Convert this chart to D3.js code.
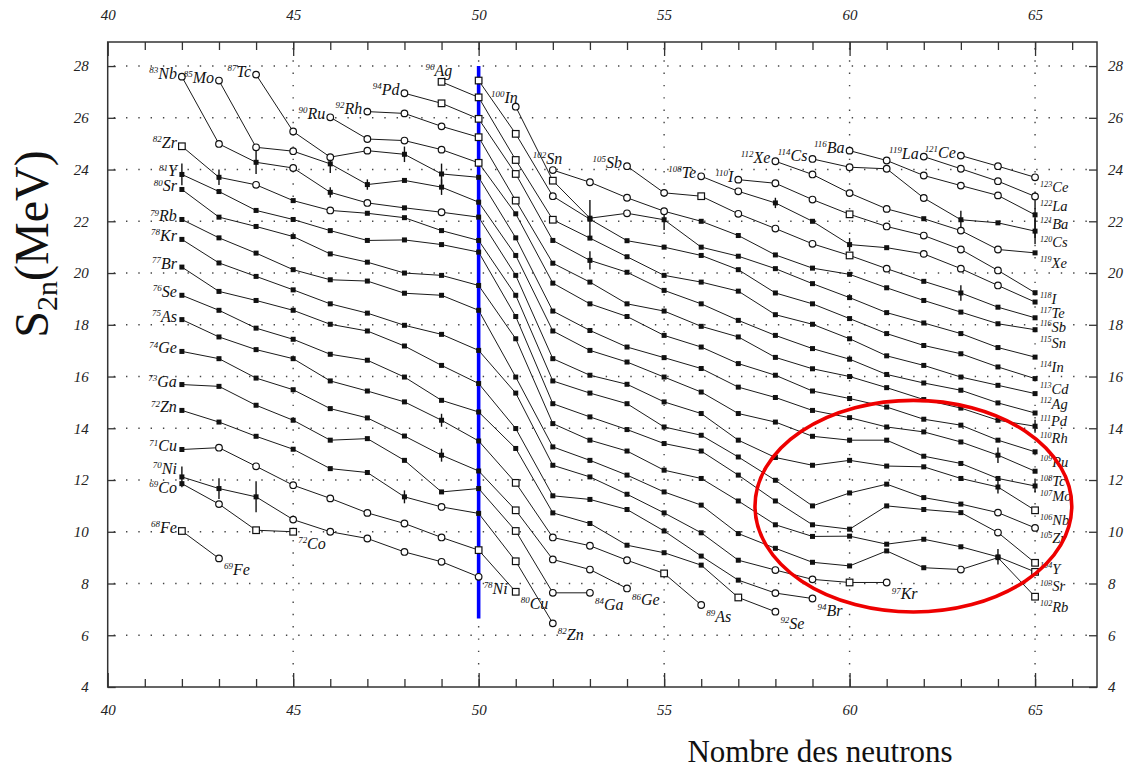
<!DOCTYPE html>
<html><head><meta charset="utf-8">
<script src="https://cdn.jsdelivr.net/npm/d3@7"></script>
<style>
body{margin:0;background:#fff}
svg{display:block}
text{font-family:"Liberation Serif","Times New Roman",serif}
.tick text{font-style:italic;font-size:15px;fill:#222}
</style></head><body>
<svg id="c" width="1134" height="771"></svg>
<script>
// ---------------- DATA ----------------
const elements = ["Fe","Co","Ni","Cu","Zn","Ga","Ge","As","Se","Br","Kr","Rb","Sr","Y","Zr","Nb","Mo","Tc","Ru","Rh","Pd","Ag","Cd","In","Sn","Sb","Te","I","Xe","Cs","Ba","La","Ce"];
const protonNumbers = [26,27,28,29,30,31,32,33,34,35,36,37,38,39,40,41,42,43,44,45,46,47,48,49,50,51,52,53,54,55,56,57,58];
const firstNeutron = [42,42,42,42,42,42,42,42,42,42,42,42,42,42,42,42,43,44,46,47,48,49,50,51,52,54,56,57,58,59,60,62,63];
const unlabelledStart = ["Cd"];

// S2n (MeV) per isotopic chain, consecutive neutron numbers from firstNeutron
const S2n_Fe = [10.03, 8.97];
const S2n_Co = [11.86, 11.07, 10.06, 10.00];
const S2n_Ni = [12.12, 11.67, 11.35, 10.47, 10.00, 9.74, 9.22, 8.84, 8.26];
const S2n_Cu = [13.18, 13.25, 12.53, 11.80, 11.29, 10.73, 10.32, 9.78, 9.29, 7.68];
const S2n_Zn = [14.69, 14.24, 13.69, 13.19, 12.44, 12.29, 11.35, 10.96, 10.71, 8.86, 6.46];
const S2n_Ga = [15.69, 15.62, 14.89, 14.31, 13.54, 13.60, 12.76, 11.54, 11.67, 10.03, 7.64, 7.64];
const S2n_Ge = [16.97, 16.69, 15.94, 15.49, 14.76, 14.40, 13.70, 12.96, 12.35, 10.83, 8.93, 8.54, 7.81];
const S2n_As = [18.20, 17.53, 17.04, 16.69, 15.83, 15.44, 15.02, 14.31, 13.51, 11.89, 9.78, 9.46, 8.90, 8.39, 7.17];
const S2n_Se = [19.14, 18.56, 17.87, 17.44, 16.86, 16.63, 15.98, 15.08, 14.63, 13.22, 10.73, 10.32, 9.48, 9.19, 8.71, 7.46, 6.91];
const S2n_Br = [20.23, 19.29, 18.94, 18.56, 18.02, 17.76, 17.18, 16.43, 15.73, 13.99, 11.39, 11.25, 10.86, 10.03, 9.06, 8.13, 7.63, 7.42];
const S2n_Kr = [21.30, 20.39, 19.87, 19.35, 18.81, 18.45, 17.98, 17.63, 17.01, 15.36, 12.57, 12.12, 11.45, 10.73, 9.96, 8.90, 8.52, 8.16, 8.04, 8.04];
const S2n_Rb = [22.07, 21.36, 20.77, 20.13, 19.74, 19.69, 19.22, 19.14, 18.56, 15.98, 13.28, 12.76, 12.19, 11.54, 11.03, 9.93, 9.36, 8.82, 8.68, 9.26, 8.61, 8.54, 9.00, 7.49];
const S2n_Sr = [23.23, 22.16, 21.80, 21.41, 20.74, 20.42, 20.00, 19.91, 19.52, 17.46, 14.18, 13.54, 13.12, 12.38, 12.06, 11.19, 10.27, 9.82, 9.83, 9.52, 9.71, 9.42, 9.03, 8.45];
const S2n_Y  = [23.81, 23.15, 22.42, 22.07, 21.64, 21.26, 21.28, 21.10, 20.81, 18.32, 14.95, 14.44, 13.95, 13.41, 13.12, 12.19, 11.19, 10.27, 10.10, 11.00, 10.86, 10.74, 9.97, 8.80];
const S2n_Zr = [24.90, 23.70, 23.41, 22.80, 22.42, 22.31, 22.14, 21.64, 21.26, 19.14, 15.83, 15.36, 14.95, 14.05, 13.73, 12.89, 11.99, 11.00, 11.50, 11.84, 11.32, 11.07, 10.74, 10.15];
const S2n_Nb = [27.59, 24.99, 24.28, 24.06, 23.12, 22.71, 22.52, 22.35, 22.16, 19.91, 16.69, 16.05, 15.70, 15.02, 14.57, 13.54, 12.87, 12.57, 12.76, 12.54, 12.51, 12.06, 11.73, 10.83];
const S2n_Mo = [27.44, 24.86, 24.71, 24.22, 23.42, 23.58, 23.32, 22.74, 20.68, 17.76, 17.01, 16.56, 15.98, 15.40, 14.57, 14.24, 13.69, 13.54, 13.54, 12.92, 12.64, 12.06, 11.77];
const S2n_Tc = [27.67, 25.47, 24.48, 24.73, 24.59, 23.83, 23.70, 21.36, 18.53, 17.78, 17.14, 16.73, 16.31, 15.59, 15.19, 14.69, 14.41, 14.05, 13.86, 13.47, 12.96, 12.34];
const S2n_Ru = [26.02, 25.18, 25.12, 24.77, 24.26, 22.29, 19.61, 18.81, 18.32, 17.59, 17.14, 16.50, 16.05, 15.44, 15.15, 14.82, 14.35, 14.12, 13.54, 13.09];
const S2n_Rh = [26.24, 26.17, 25.67, 25.25, 22.80, 20.38, 19.65, 18.81, 18.53, 17.94, 17.53, 16.74, 16.30, 16.00, 15.57, 15.11, 14.78, 14.31, 14.08];
const S2n_Pd = [26.95, 26.56, 25.96, 23.83, 21.26, 20.49, 20.03, 19.33, 18.81, 18.17, 17.59, 17.08, 16.67, 16.08, 15.75, 15.47, 14.98, 14.59];
const S2n_Ag = [27.39, 26.79, 24.37, 22.06, 21.35, 20.63, 19.91, 19.65, 19.30, 18.39, 18.02, 17.46, 16.80, 16.43, 15.98, 15.66, 15.34];
const S2n_Cd = [27.44, 25.38, 22.97, 22.08, 21.25, 21.00, 20.68, 20.13, 19.23, 18.81, 18.24, 17.66, 17.20, 16.88, 16.37, 15.92];
const S2n_In = [26.43, 23.57, 22.12, 22.31, 22.06, 21.00, 20.65, 20.17, 19.59, 19.05, 18.47, 18.07, 17.66, 17.12, 16.75];
const S2n_Sn = [23.98, 23.51, 22.91, 22.39, 22.00, 21.45, 20.70, 20.19, 19.95, 19.43, 18.94, 18.49, 18.04, 17.81];
const S2n_Sb = [24.13, 23.10, 22.97, 22.29, 21.72, 21.13, 20.68, 20.17, 19.68, 19.23, 18.68, 18.27];
const S2n_Te = [23.74, 23.16, 22.71, 22.00, 21.10, 20.98, 20.74, 20.17, 19.52, 18.88];
const S2n_I  = [23.61, 23.47, 22.84, 22.27, 21.80, 21.45, 20.91, 20.10, 19.24];
const S2n_Xe = [24.32, 23.81, 23.09, 22.48, 22.10, 21.64, 20.91, 20.78];
const S2n_Cs = [24.41, 24.09, 24.03, 22.90, 22.06, 21.94, 21.62];
const S2n_Ba = [24.73, 24.35, 23.77, 23.38, 23.00, 22.25];
const S2n_La = [24.50, 24.03, 23.55, 22.96];
const S2n_Ce = [24.54, 24.13, 23.70];

const seriesValues = [S2n_Fe,S2n_Co,S2n_Ni,S2n_Cu,S2n_Zn,S2n_Ga,S2n_Ge,S2n_As,S2n_Se,S2n_Br,S2n_Kr,S2n_Rb,S2n_Sr,S2n_Y,S2n_Zr,S2n_Nb,S2n_Mo,S2n_Tc,S2n_Ru,S2n_Rh,S2n_Pd,S2n_Ag,S2n_Cd,S2n_In,S2n_Sn,S2n_Sb,S2n_Te,S2n_I,S2n_Xe,S2n_Cs,S2n_Ba,S2n_La,S2n_Ce];

// point kind: f = measured (filled), c = systematics (open circle), s = open square
const pointKinds = [
  "sc","fcss","fffcccccc","fcccccccss","fffffffcfsc","fffffffffscc","fffffffffsccc",
  "fffffffffscccsc","fffffffffffffffsc","ffffffffffffffffcc","ffffffffffffffffccsc",
  "fffffffffffffffffffffcfs","fffffffffffffffffffffffs","ffffffffffffffffffffffcs",
  "sfcfcfffffffffffffffffcc","ccfcfcfcfffffffffffffffs","cccffffffffffffffffffff",
  "ccccffffffffffffffffff","ccccsfffffffffffffff","cccssffffffffffffff","csssffffffffffffff",
  "ssssfffffffffffff","sscfffffffffffff","csfcfffffffffff","ccccffffffffff",
  "ccscccscffff","ccffffcccf","cccsccccf","ccccfccf","ccccfff","cccccf","cccc","ccc"
];

// uncertainty bars: [element, N, half-width MeV]
const errorBars = [["Y",42,0.42],["Zr",43,0.3],["Nb",44,0.45],["Mo",46,0.35],["Nb",46,0.2],["Mo",47,0.2],
  ["Tc",48,0.3],["Tc",49,0.4],["Mo",49,0.3],["Ni",42,0.4],["Ni",43,0.4],["Ni",44,0.6],["As",49,0.25],
  ["Ge",49,0.25],["Zn",48,0.25],["In",53,0.7],["Pd",53,0.35],["In",55,0.4],["Te",58,0.2],["Te",60,0.25],
  ["Cs",63,0.35],["Sb",63,0.3],["Ba",65,0.9],["Cs",65,0.5],["Rh",65,0.25],["Mo",65,0.25],["Tc",64,0.3],
  ["Nb",64,0.25],["Sr",64,0.3]];

const xTicksMinor = d3.range(41, 67);
const xTicksMajor = [40,45,50,55,60,65];
const yTicks = [4,6,8,10,12,14,16,18,20,22,24,26,28];
const xGrid = [45,50,55,60,65];
const shellClosureN = 50, shellLine = [6.65, 28];
const ellipseCenter = [61.72, 10.99], ellipseRadii = [4.27, 4.09];

// ---------------- DRAW ----------------
const svg = d3.select("#c");
const L = 107.7, R = 1097, T = 42, B = 687;
const x = d3.scaleLinear().domain([40, 66.67]).range([L, R]);
const y = d3.scaleLinear().domain([4, 28.93]).range([B, T]);

// dotted grid
const grid = svg.append("g").attr("stroke","#444").attr("stroke-width",1.4).attr("stroke-dasharray","1.4,10.9");
grid.selectAll(".h").data(yTicks.slice(1)).join("line").attr("x1",L+6).attr("x2",R).attr("y1",d=>y(d)).attr("y2",d=>y(d));
grid.selectAll(".v").data(xGrid).join("line").attr("y1",T+6).attr("y2",B).attr("x1",d=>x(d)).attr("x2",d=>x(d));

// axes (ticks point inward)
function styleAxis(g){ g.select(".domain").remove(); g.selectAll(".tick line").attr("stroke","#333").attr("stroke-width",1.3); }
svg.append("g").attr("transform",`translate(0,${B})`).call(d3.axisBottom(x).tickValues(xTicksMinor).tickSizeInner(-8).tickSizeOuter(0).tickFormat("")).call(styleAxis);
svg.append("g").attr("transform",`translate(0,${T})`).call(d3.axisTop(x).tickValues(xTicksMinor).tickSizeInner(-8).tickSizeOuter(0).tickFormat("")).call(styleAxis);
svg.append("g").attr("transform",`translate(0,${B})`).call(d3.axisBottom(x).tickValues(xTicksMajor).tickSizeInner(-14).tickSizeOuter(0).tickPadding(17)).call(styleAxis);
svg.append("g").attr("transform",`translate(0,${T})`).call(d3.axisTop(x).tickValues(xTicksMajor).tickSizeInner(-14).tickSizeOuter(0).tickPadding(22)).call(styleAxis);
svg.append("g").attr("transform",`translate(${L},0)`).call(d3.axisLeft(y).tickValues(yTicks).tickSizeInner(-8).tickSizeOuter(0).tickPadding(19)).call(styleAxis);
svg.append("g").attr("transform",`translate(${R},0)`).call(d3.axisRight(y).tickValues(yTicks).tickSizeInner(-8).tickSizeOuter(0).tickPadding(11)).call(styleAxis);

svg.append("rect").attr("x",L).attr("y",T).attr("width",R-L).attr("height",B-T).attr("fill","none").attr("stroke","#333").attr("stroke-width",1.5);

// chains
const chains = elements.map((el,i)=>({
  el, Z: protonNumbers[i],
  pts: seriesValues[i].map((s,j)=>({n:firstNeutron[i]+j, s, k:pointKinds[i][j]||"f"}))
}));
const line = d3.line().x(d=>x(d.n)).y(d=>y(d.s));
svg.append("g").selectAll("path").data(chains).join("path")
  .attr("d",d=>line(d.pts)).attr("fill","none").attr("stroke","#1a1a1a").attr("stroke-width",1);

// shell closure line
svg.append("line").attr("x1",x(shellClosureN)).attr("x2",x(shellClosureN))
  .attr("y1",y(shellLine[1])).attr("y2",y(shellLine[0])).attr("stroke","#0000ff").attr("stroke-width",3.6);

// error bars
const byEl = new Map(chains.map(c=>[c.el,c]));
svg.append("g").selectAll("line").data(errorBars).join("line")
  .each(function(d){
    const c = byEl.get(d[0]); const p = c.pts.find(q=>q.n===d[1]);
    d3.select(this).attr("x1",x(p.n)).attr("x2",x(p.n)).attr("y1",y(p.s-d[2])).attr("y2",y(p.s+d[2]));
  }).attr("stroke","#111").attr("stroke-width",1.4);

// markers
const allPts = chains.flatMap(c=>c.pts);
const mk = svg.append("g");
mk.selectAll("circle").data(allPts.filter(p=>p.k==="c")).join("circle")
  .attr("cx",d=>x(d.n)).attr("cy",d=>y(d.s)).attr("r",3.3).attr("fill","#fff").attr("stroke","#111").attr("stroke-width",1.2);
mk.selectAll("rect.s").data(allPts.filter(p=>p.k==="s")).join("rect").attr("class","s")
  .attr("x",d=>x(d.n)-3.3).attr("y",d=>y(d.s)-3.3).attr("width",6.6).attr("height",6.6).attr("fill","#fff").attr("stroke","#111").attr("stroke-width",1.2);
mk.selectAll("rect.f").data(allPts.filter(p=>p.k==="f")).join("rect").attr("class","f")
  .attr("x",d=>x(d.n)-2.5).attr("y",d=>y(d.s)-2.5).attr("width",5).attr("height",5).attr("fill","#111");

// labels
const lab = svg.append("g").attr("font-style","italic").attr("fill","#111");
function addLabel(px,py,anchor,A,el,size){
  const t = lab.append("text").attr("x",px).attr("y",py).attr("text-anchor",anchor);
  t.append("tspan").attr("font-size",size*0.56).attr("dy",-size*0.37).text(A);
  t.append("tspan").attr("font-size",size).attr("dy",size*0.37).text(el);
}
const startOverride = {In:[2,-4,"end"], Sn:[-20,-6,"start"], Ag:[-16,-6,"start"], Ni:[-5,-3,"end"], Co:[-5,9,"end"]};
const endNudge = {I:-4, Te:1, Sb:-1, Sn:3, Y:-4, Sr:4, Ba:-1, Cs:1, Pd:-2, Rh:2};
chains.forEach(c=>{
  const p0 = c.pts[0], p1 = c.pts[c.pts.length-1];
  if(!unlabelledStart.includes(c.el)){
    const o = startOverride[c.el] || [-5,2,"end"];
    addLabel(x(p0.n)+o[0], y(p0.s)+o[1], o[2], c.Z+p0.n, c.el, 16);
  }
  const crowded = p1.n === 65;
  addLabel(x(p1.n)+5, y(p1.s)+(crowded?15:17)+(crowded?(endNudge[c.el]||0):0), "start", c.Z+p1.n, c.el, crowded?14.5:16);
});

// red ellipse
svg.append("ellipse").attr("cx",x(ellipseCenter[0])).attr("cy",y(ellipseCenter[1]))
  .attr("rx",x(ellipseCenter[0]+ellipseRadii[0])-x(ellipseCenter[0]))
  .attr("ry",y(ellipseCenter[1]-ellipseRadii[1])-y(ellipseCenter[1]))
  .attr("fill","none").attr("stroke","#ee0000").attr("stroke-width",3.6);

// titles
const yt = svg.append("text").attr("transform","translate(48,244) rotate(-90)").attr("text-anchor","middle").attr("font-size",48).attr("fill","#111");
yt.append("tspan").text("S");
yt.append("tspan").attr("font-size",30).attr("dy",9).text("2n");
yt.append("tspan").attr("dy",-9).text("(MeV)");
svg.append("text").attr("x",820).attr("y",762).attr("text-anchor","middle").attr("font-size",31).attr("fill","#111").text("Nombre des neutrons");
</script>
</body></html>
